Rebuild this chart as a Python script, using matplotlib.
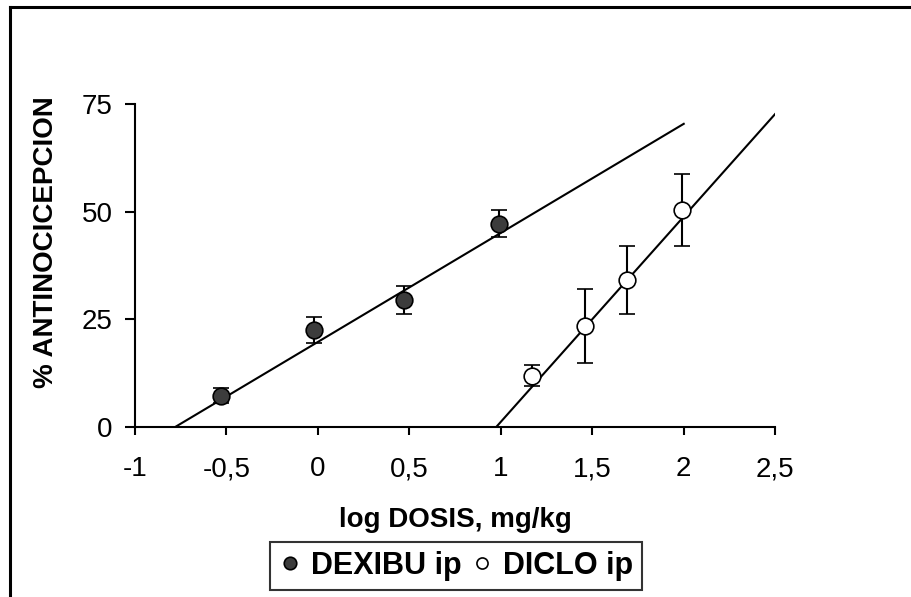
import matplotlib.pyplot as plt
from matplotlib.lines import Line2D

plt.rcParams['font.family'] = ['Liberation Sans', 'DejaVu Sans']

# DEXIBU ip
dexibu_x = [-0.53, -0.02, 0.47, 0.99]
dexibu_y = [7.3, 22.6, 29.5, 47.3]
dexibu_err = [1.7, 3.0, 3.2, 3.2]
dexibu_fit_x = [-0.78, 2.0]
dexibu_fit_y = [0, 70.5]

# DICLO ip
diclo_x = [1.17, 1.46, 1.69, 1.99]
diclo_y = [11.9, 23.5, 34.2, 50.5]
diclo_err = [2.4, 8.6, 8.0, 8.3]
diclo_fit_x = [0.975, 2.5]
diclo_fit_y = [0, 72.8]

xticks = [-1, -0.5, 0, 0.5, 1, 1.5, 2, 2.5]
xticklabels = ['-1', '-0,5', '0', '0,5', '1', '1,5', '2', '2,5']
yticks = [0, 25, 50, 75]

fig = plt.figure(figsize=(9.12, 5.97), dpi=100)
ax = fig.add_axes([0.148, 0.2848, 0.702, 0.5402])

ax.plot(dexibu_fit_x, dexibu_fit_y, color='black', lw=1.5, zorder=2)
ax.plot(diclo_fit_x, diclo_fit_y, color='black', lw=1.5, zorder=2)

ax.errorbar(dexibu_x, dexibu_y, yerr=dexibu_err, fmt='o', ms=12, mfc='#3c3c3c',
            mec='black', mew=1.2, ecolor='black', elinewidth=1.5, capsize=6,
            capthick=1.5, zorder=3, label='DEXIBU ip')
ax.errorbar(diclo_x, diclo_y, yerr=diclo_err, fmt='o', ms=12, mfc='white',
            mec='black', mew=1.2, ecolor='black', elinewidth=1.5, capsize=6,
            capthick=1.5, zorder=3, label='DICLO ip')

ax.set_xlim(-1, 2.5)
ax.set_ylim(0, 75)
ax.set_xticks(xticks)
ax.set_xticklabels(xticklabels)
ax.set_yticks(yticks)
ax.tick_params(axis='both', direction='out', width=1.5, labelsize=20)
ax.tick_params(axis='x', length=6, pad=15)
ax.tick_params(axis='y', length=7, pad=9)
ax.spines['top'].set_visible(False)
ax.spines['right'].set_visible(False)
ax.spines['left'].set_linewidth(1.5)
ax.spines['bottom'].set_linewidth(1.5)

ax.set_xlabel('log DOSIS, mg/kg', fontsize=20, fontweight='bold', labelpad=18)
ax.set_ylabel('% ANTINOCICEPCION', fontsize=20, fontweight='bold')
ax.yaxis.set_label_coords(-0.119, 0.574)

handles = [Line2D([], [], ls='none', marker='o', ms=9, mfc='#3c3c3c', mec='black', mew=1.2),
           Line2D([], [], ls='none', marker='o', ms=8, mfc='white', mec='black', mew=1.2)]
leg = fig.legend(handles, ['DEXIBU ip', 'DICLO ip'], loc='center',
                 bbox_to_anchor=(0.5, 0.052), ncol=2, frameon=True, fancybox=False,
                 prop={'weight': 'bold', 'size': 22}, handlelength=0.7,
                 handletextpad=0.35, columnspacing=0.3, borderpad=0.3,
                 borderaxespad=0)
leg.get_frame().set_edgecolor('black')
leg.get_frame().set_linewidth(1.5)

# outer border (top and left)
fig.add_artist(Line2D([0.011, 1.0], [0.988, 0.988], color='black', lw=2.2))
fig.add_artist(Line2D([0.011, 0.011], [0.0, 0.988], color='black', lw=2.2))

fig.savefig('out.png', dpi=100)
